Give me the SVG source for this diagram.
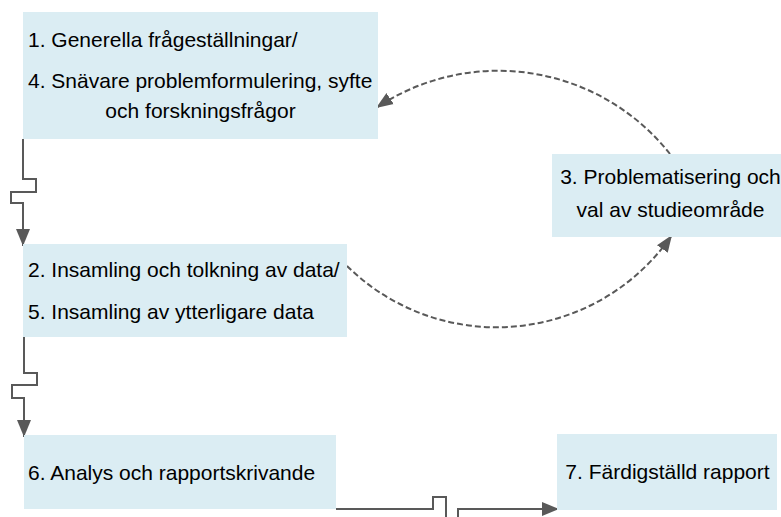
<svg xmlns="http://www.w3.org/2000/svg" width="781" height="517" viewBox="0 0 781 517">
<style>
.box{fill:#dbedf3;stroke:none}
.t{font-family:"Liberation Sans",Arial,sans-serif;font-size:21px;fill:#000}
.c{text-anchor:middle}
.ln{fill:none;stroke:#595959;stroke-width:2}
.dash{fill:none;stroke:#595959;stroke-width:2;stroke-dasharray:6 3}
</style>
<defs>
<marker id="ah" markerUnits="userSpaceOnUse" markerWidth="17" markerHeight="14" refX="17" refY="7" orient="auto">
<path d="M0,0 L17,7 L0,14 z" fill="#595959" stroke="none"/>
</marker>
<marker id="ahd" markerUnits="userSpaceOnUse" markerWidth="17" markerHeight="14" refX="17" refY="7" orient="auto">
<path d="M0,0.5 L17,7 L0,13.5 z" fill="#595959" stroke="none"/>
</marker>
</defs>
<g id="connectors">
<path class="ln" d="M23,139 V179 H36 V192 H11 V203 H23 V246" marker-end="url(#ah)"/>
<path class="ln" d="M24,337 V373 H37 V385 H12 V398 H24 V437" marker-end="url(#ah)"/>
<path class="ln" d="M336,509 H433 V497 H446 V525 H458 V509 H559" marker-end="url(#ah)"/>
<path class="dash" d="M670,154 A219,219 0 0 0 376,108" marker-end="url(#ahd)"/>
<path class="dash" d="M347,266 A213,213 0 0 0 672,235" marker-end="url(#ahd)"/>
</g>
<g id="n1">
<rect class="box" x="23" y="12" width="355" height="127"/>
<text class="t" x="28" y="47">1. Generella frågeställningar/</text>
<text class="t" x="28" y="88">4. Snävare problemformulering, syfte</text>
<text class="t c" x="200.5" y="118">och forskningsfrågor</text>
</g>
<g id="n3">
<rect class="box" x="552" y="154" width="240" height="83"/>
<text class="t c" x="670.5" y="184">3. Problematisering och</text>
<text class="t c" x="670.5" y="217">val av studieområde</text>
</g>
<g id="n2">
<rect class="box" x="23" y="244" width="324" height="93"/>
<text class="t" x="28" y="277">2. Insamling och tolkning av data/</text>
<text class="t" x="28" y="319">5. Insamling av ytterligare data</text>
</g>
<g id="n6">
<rect class="box" x="24" y="435" width="312" height="74"/>
<text class="t" x="28" y="480">6. Analys och rapportskrivande</text>
</g>
<g id="n7">
<rect class="box" x="557" y="434" width="220" height="76"/>
<text class="t c" x="667.5" y="479">7. Färdigställd rapport</text>
</g>
</svg>
